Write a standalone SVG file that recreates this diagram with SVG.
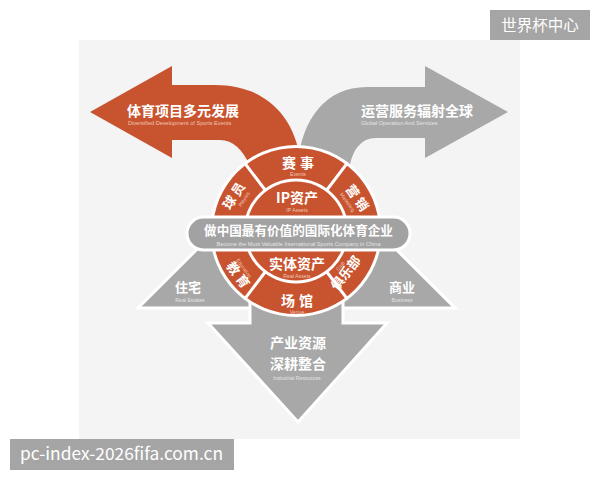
<svg xmlns="http://www.w3.org/2000/svg" width="600" height="480" viewBox="0 0 600 480">
<style>
.red{fill:#c8532f}
.gray{fill:#a8a8a8}
.cj{font-family:"Noto Sans CJK SC","Noto Sans",sans-serif;font-weight:bold;fill:#ffffff;text-anchor:middle}
.en{font-family:"Liberation Sans","Noto Sans",sans-serif;text-anchor:middle}
.enr{fill:#f2c6b4}
.eng{fill:#e4e4e4}
.wm{font-family:"Noto Sans CJK SC","Noto Sans",sans-serif;fill:#ffffff}
</style>
<rect x="0" y="0" width="600" height="480" fill="#ffffff"/>
<rect x="79" y="40" width="441" height="399" fill="#f4f4f4"/>
<g id="connectors">
  <path id="tri" d="M138,308 L455,308 L296.5,150 Z" class="gray" stroke="#ffffff" stroke-width="3"/>
  <path id="down-arrow" d="M250,296 L343,296 L343,323 L387,323 L298,422 L208,323 L250,323 Z" class="gray" stroke="#ffffff" stroke-width="3" stroke-linejoin="miter"/>
  <path id="left-arrow" class="red" d="M90,112 L172,66 L172,85 L215,85 C260,85 290,110 299,152 L296,200 L250,166 C243,150 233,140 220,140 L172,140 L172,158 Z"/>
  <path id="right-arrow" class="gray" d="M508,112 L425,66 L425,87 L367,87 C325,87 303,120 298,160 L298,200 L350,165 C353,150 361,138 376,138 L425,138 L425,158 Z"/>
</g>
<g id="ring">
  <circle cx="296" cy="231" r="86" fill="#ffffff"/>
  <circle cx="296" cy="231" r="83" class="red"/>
  <circle cx="296" cy="231" r="52.5" fill="#ffffff"/>
  <circle cx="296" cy="231" r="49.5" class="red"/>
  <g stroke="#ffffff" stroke-width="3">
    <line x1="265.5" y1="190.5" x2="244.2" y2="162.3"/>
    <line x1="326.5" y1="190.5" x2="347.8" y2="162.3"/>
    <line x1="265.5" y1="271.5" x2="244.2" y2="299.7"/>
    <line x1="326.5" y1="271.5" x2="347.8" y2="299.7"/>
  </g>
</g>
<g id="banner">
  <rect x="187" y="217" width="223" height="33" rx="16.5" fill="#a2a2a2" stroke="#ffffff" stroke-width="3"/>
  <text class="cj" x="298.5" y="235" font-size="12.6">做中国最有价值的国际化体育企业</text>
  <text class="en eng" x="298.5" y="246" font-size="5.6">Become the Most Valuable International Sports Company in China</text>
</g>
<g id="node-left-arrow">
  <text class="cj" x="127" y="116" font-size="14" style="text-anchor:start">体育项目多元发展</text>
  <text class="en enr" x="128" y="125" font-size="5.6" style="text-anchor:start">Diversified Development of Sports Events</text>
</g>
<g id="node-right-arrow">
  <text class="cj" x="361" y="116" font-size="14" style="text-anchor:start">运营服务辐射全球</text>
  <text class="en eng" x="361" y="125" font-size="5.6" style="text-anchor:start">Global Operation And Services</text>
</g>
<g id="node-events">
  <text class="cj" x="300" y="168" font-size="14" letter-spacing="4">赛事</text>
  <text class="en enr" x="298" y="176" font-size="5.2">Events</text>
</g>
<g id="node-ip">
  <text class="cj" x="297" y="203" font-size="14">IP资产</text>
  <text class="en enr" x="297" y="212" font-size="5.2">IP Assets</text>
</g>
<g id="node-real">
  <text class="cj" x="297" y="269" font-size="14">实体资产</text>
  <text class="en enr" x="297" y="277.5" font-size="5.2">Real Assets</text>
</g>
<g id="node-venue">
  <text class="cj" x="299" y="306" font-size="14" letter-spacing="4">场馆</text>
  <text class="en enr" x="297" y="314" font-size="5.2">Venue</text>
</g>
<g id="node-player" transform="translate(234,196) rotate(-57)">
  <text class="cj" x="1.5" y="4.5" font-size="13" letter-spacing="3">球员</text>
  <text class="en enr" x="3" y="12" font-size="5">Players</text>
</g>
<g id="node-marketing" transform="translate(357,198) rotate(55)">
  <text class="cj" x="1.5" y="4.5" font-size="13" letter-spacing="3">营销</text>
  <text class="en enr" x="-2" y="12" font-size="5">Marketing</text>
</g>
<g id="node-education" transform="translate(238,275) rotate(54)">
  <text class="cj" x="1.5" y="4.5" font-size="13" letter-spacing="3">教育</text>
  <text class="en enr" x="-2" y="-7" font-size="5">Education</text>
</g>
<g id="node-club" transform="translate(346,273) rotate(-52)">
  <text class="cj" x="0" y="4.5" font-size="13">俱乐部</text>
  <text class="en enr" x="2" y="-7" font-size="5">Club</text>
</g>
<g id="node-residential">
  <text class="cj" x="188" y="292" font-size="13">住宅</text>
  <text class="en eng" x="190" y="302" font-size="5.2">Real Estates</text>
</g>
<g id="node-business">
  <text class="cj" x="402" y="292" font-size="13">商业</text>
  <text class="en eng" x="402" y="302" font-size="5.2">Business</text>
</g>
<g id="node-industrial">
  <text class="cj" x="298" y="348" font-size="14">产业资源</text>
  <text class="cj" x="298" y="369" font-size="14">深耕整合</text>
  <text class="en eng" x="297" y="380" font-size="5.2">Industrial Resources</text>
</g>
<g id="watermarks">
  <rect x="490" y="10" width="100" height="30" fill="#a5a5a5"/>
  <text class="wm" x="540" y="31" font-size="15.5" text-anchor="middle">世界杯中心</text>
  <rect x="10" y="439" width="224" height="31" fill="#a5a5a5"/>
  <text class="wm" x="20" y="460" font-size="17" textLength="203" lengthAdjust="spacingAndGlyphs">pc-index-2026fifa.com.cn</text>
</g>
</svg>
